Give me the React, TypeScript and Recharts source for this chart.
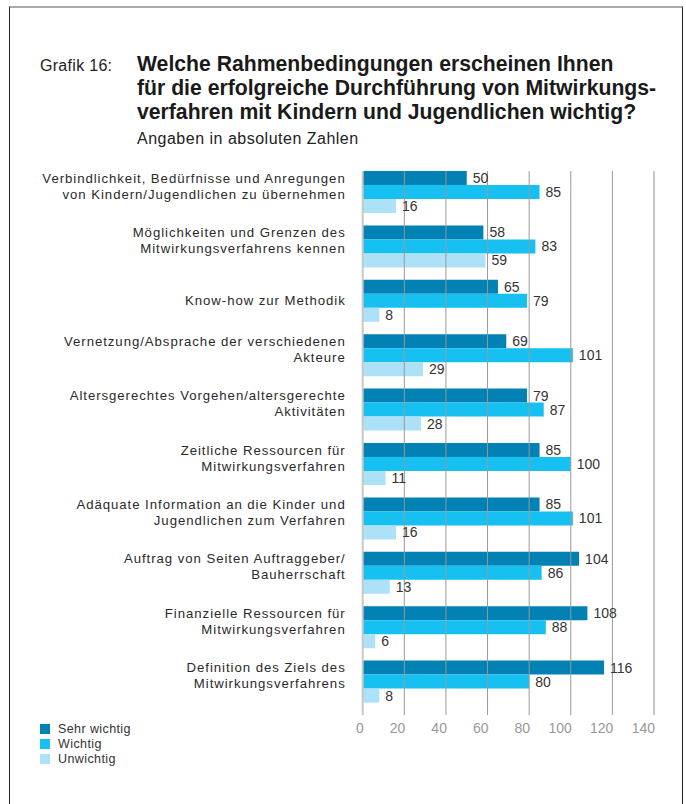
import React from 'react'
import { BarChart, Bar, XAxis, YAxis, CartesianGrid, LabelList } from 'recharts'

const categories = [
  'Verbindlichkeit, Bedürfnisse und Anregungen\nvon Kindern/Jugendlichen zu übernehmen',
  'Möglichkeiten und Grenzen des\nMitwirkungsverfahrens kennen',
  'Know-how zur Methodik',
  'Vernetzung/Absprache der verschiedenen\nAkteure',
  'Altersgerechtes Vorgehen/altersgerechte\nAktivitäten',
  'Zeitliche Ressourcen für\nMitwirkungsverfahren',
  'Adäquate Information an die Kinder und\nJugendlichen zum Verfahren',
  'Auftrag von Seiten Auftraggeber/\nBauherrschaft',
  'Finanzielle Ressourcen für\nMitwirkungsverfahren',
  'Definition des Ziels des\nMitwirkungsverfahrens',
]

const sehrWichtig = [50, 58, 65, 69, 79, 85, 85, 104, 108, 116]
const wichtig = [85, 83, 79, 101, 87, 100, 101, 86, 88, 80]
const unwichtig = [16, 59, 8, 29, 28, 11, 16, 13, 6, 8]

const xTicks = [0, 20, 40, 60, 80, 100, 120, 140]

const data = categories.map((name, i) => ({
  name,
  sehr: sehrWichtig[i],
  wichtig: wichtig[i],
  unwichtig: unwichtig[i],
}))

const series = [
  { key: 'sehr', name: 'Sehr wichtig', color: '#0181b4' },
  { key: 'wichtig', name: 'Wichtig', color: '#16c1f1' },
  { key: 'unwichtig', name: 'Unwichtig', color: '#ade1f8' },
]

const FONT = "'Liberation Sans', Arial, sans-serif"

function CategoryTick(props: any) {
  const { x, y, payload } = props
  const lines: string[] = String(payload.value).split('\n')
  const start = lines.length > 1 ? -13.5 : 0
  return (
    <text x={x - 17} y={y} textAnchor="end" fill="#2a2a2a" fontSize={13.2} fontFamily={FONT} letterSpacing={0.95}>
      {lines.map((l, i) => (
        <tspan key={i} x={x - 17} y={y + start + i * 16} dominantBaseline="central">
          {l}
        </tspan>
      ))}
    </text>
  )
}

function ValueTick(props: any) {
  const { x, y, payload } = props
  return (
    <text x={x + 1} y={y + 20} textAnchor="end" dominantBaseline="central" fill="#999" fontSize={14} fontFamily={FONT}>
      {payload.value}
    </text>
  )
}

function gridLine(p: any) {
  const edge = p.index === 0 || p.index === xTicks.length - 1
  return (
    <line
      key={p.key}
      x1={p.x1}
      x2={p.x2}
      y1={p.y1}
      y2={p.y2}
      stroke={edge ? '#c8c8c8' : '#999'}
      strokeWidth={edge ? 2 : 1}
    />
  )
}

export default function App() {
  return (
    <div style={{ position: 'absolute', left: 0, top: 0, width: 686, height: 804, background: '#fff', overflow: 'hidden' }}>
      <div
        style={{
          position: 'absolute',
          left: 9,
          top: 6,
          width: 674,
          height: 820,
          boxSizing: 'border-box',
          borderTop: '2px solid #aaa',
          borderLeft: '1.5px solid #222',
          borderRight: '1.5px solid #222',
        }}
      />
      <div style={{ position: 'absolute', left: 40, top: 57, fontFamily: FONT, fontSize: 16, letterSpacing: 0.3, color: '#222' }}>
        Grafik 16:
      </div>
      <div
        style={{
          position: 'absolute',
          left: 137,
          top: 52,
          fontFamily: FONT,
          fontWeight: 'bold',
          fontSize: 21.2,
          lineHeight: '24px',
          color: '#1a1a1a',
          whiteSpace: 'pre',
        }}
      >
        {'Welche Rahmenbedingungen erscheinen Ihnen\nfür die erfolgreiche Durchführung von Mitwirkungs-\nverfahren mit Kindern und Jugendlichen wichtig?'}
      </div>
      <div style={{ position: 'absolute', left: 137, top: 130, fontFamily: FONT, fontSize: 16, letterSpacing: 0.5, color: '#222' }}>
        Angaben in absoluten Zahlen
      </div>
      <div style={{ position: 'absolute', left: 0, top: 0 }}>
        <BarChart
          width={686}
          height={804}
          data={data}
          layout="vertical"
          margin={{ top: 164.3, right: 32, bottom: 65.7, left: 0 }}
          barCategoryGap={6.7}
          barGap={0}
        >
          <XAxis
            type="number"
            domain={[0, 140]}
            ticks={xTicks}
            axisLine={false}
            tickLine={false}
            tickSize={0}
            tickMargin={0}
            height={30}
            tick={<ValueTick />}
            interval={0}
          />
          <YAxis
            type="category"
            dataKey="name"
            width={362.7}
            axisLine={false}
            tickLine={false}
            tickSize={0}
            tickMargin={0}
            tick={<CategoryTick />}
            interval={0}
          />
          {series.map((s) => (
            <Bar key={s.key} dataKey={s.key} name={s.name} fill={s.color} isAnimationActive={false}>
              <LabelList dataKey={s.key} position="right" offset={6} fill="#333" fontSize={14} fontFamily={FONT} />
            </Bar>
          ))}
          <CartesianGrid horizontal={false} vertical={gridLine} y={171} height={544} zIndex={500} />
        </BarChart>
      </div>
      <div style={{ position: 'absolute', left: 40, top: 721, fontFamily: FONT, fontSize: 12.5, color: '#333', letterSpacing: 0.4 }}>
        {series.map((s) => (
          <div key={s.key} style={{ display: 'flex', alignItems: 'center', height: 15 }}>
            <span style={{ width: 10, height: 10, background: s.color, marginRight: 8, display: 'inline-block' }} />
            {s.name}
          </div>
        ))}
      </div>
    </div>
  )
}
